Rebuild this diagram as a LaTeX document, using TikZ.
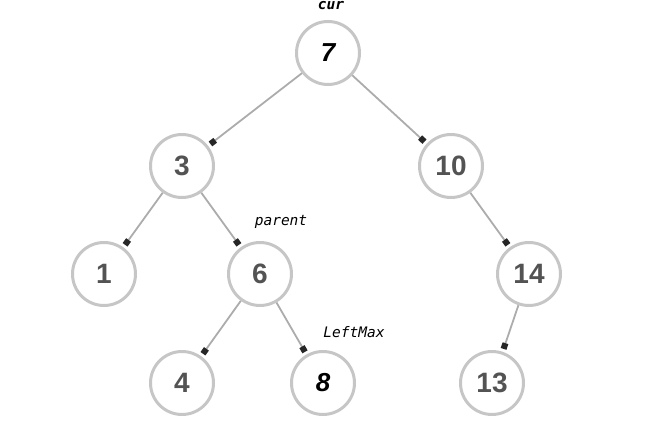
\documentclass[tikz,border=0pt]{standalone}
\usepackage{fontspec}
\setmainfont{Liberation Sans}
\newfontfamily\markfont{DejaVu Sans Mono}
\usetikzlibrary{arrows.meta}
\tikzset{
  pointer/.style={draw=gray!65, line width=1.8pt,
    -{Square[length=6pt,width=6pt,fill=black!85,line width=0pt]},
    shorten >=3pt}
  }

\begin{document}
\begin{tikzpicture}[x=1pt, y=-1pt,
    key/.style={%
        circle, draw=gray!45, line width=3pt, fill=white,
        minimum size=63pt, inner sep=0pt,
        font=\fontsize{28}{28}\selectfont\bfseries, text=gray!65!black},
    hot/.style={%
        font=\fontsize{26}{26}\selectfont\bfseries\itshape, text=black},
    tag/.style={%
        font=\markfont\fontsize{14.5}{14.5}\selectfont\itshape, text=black},
]
    \useasboundingbox (0,0) rectangle (669,436);
    % Root
    \node[key,hot] (n7) at (328,53) {7};
    % Level 1
    \node[key] (n3) at (182,166) {3};
    \node[key] (n10) at (451,166) {10};
    % Level 2
    \node[key] (n1) at (104,274) {1};
    \node[key] (n6) at (260,274) {6};
    \node[key] (n14) at (529,274) {14};
    % Level 3
    \node[key] (n4) at (182,383) {4};
    \node[key,hot] (n8) at (323,383) {8};
    \node[key] (n13) at (492,383) {13};
    % Edges
    \draw[pointer] (n7) -- (n3);
    \draw[pointer] (n7) -- (n10);
    \draw[pointer] (n3) -- (n1);
    \draw[pointer] (n3) -- (n6);
    \draw[pointer] (n10) -- (n14);
    \draw[pointer] (n6) -- (n4);
    \draw[pointer] (n6) -- (n8);
    \draw[pointer] (n14) -- (n13);
    % Labels
    \node[tag,font=\markfont\fontsize{14.5}{14.5}\selectfont\bfseries\itshape] (curlbl) at (331,6) {cur};
    \node[tag] (parentlbl) at (281,222) {parent};
    \node[tag] (leftmaxlbl) at (354,332) {LeftMax};
\end{tikzpicture}
\end{document}
